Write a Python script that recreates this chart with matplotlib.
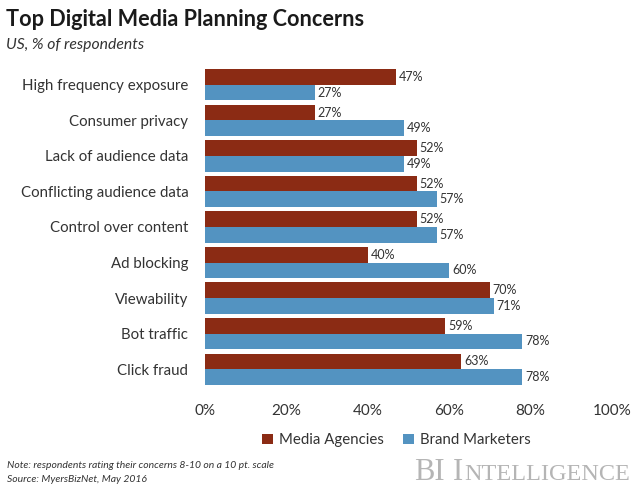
import numpy as np
import matplotlib
matplotlib.use('Agg')
import matplotlib.pyplot as plt

plt.rcParams['font.family'] = ['Lato', 'DejaVu Sans']

categories = ['High frequency exposure', 'Consumer privacy', 'Lack of audience data',
              'Conflicting audience data', 'Control over content', 'Ad blocking',
              'Viewability', 'Bot traffic', 'Click fraud']
media_agencies = [47, 27, 52, 52, 52, 40, 70, 59, 63]
brand_marketers = [27, 49, 49, 57, 57, 60, 71, 78, 78]
x_ticks = [0, 20, 40, 60, 80, 100]

red = '#8b2b14'
blue = '#5393c1'
text_col = '#333333'

W, H = 640, 488
fig = plt.figure(figsize=(W / 100, H / 100), dpi=100)
ax = fig.add_axes([205 / W, 1 - 387 / H, 407 / W, 320 / H])

y = np.arange(len(categories))
h = 0.44
ax.barh(y - h / 2, media_agencies, h, color=red, label='Media Agencies')
ax.barh(y + h / 2, brand_marketers, h, color=blue, label='Brand Marketers')

for i in y:
    ax.text(media_agencies[i] + 0.7, i - h / 2, f'{media_agencies[i]}%', va='center',
            fontsize=9, color=text_col)
    ax.text(brand_marketers[i] + 0.7, i + h / 2, f'{brand_marketers[i]}%', va='center',
            fontsize=9, color=text_col)

ax.set_xlim(0, 100)
ax.set_ylim(len(categories) - 0.5, -0.5)
ax.set_xticks(x_ticks)
ax.set_xticklabels([f'{t}%' for t in x_ticks], fontsize=11, color=text_col)
ax.set_yticks(y)
ax.set_yticklabels(categories, fontsize=10.8, color=text_col)
ax.tick_params(length=0)
ax.tick_params(axis='x', pad=12)
ax.tick_params(axis='y', pad=12)
for s in ax.spines.values():
    s.set_visible(False)

fig.legend(loc='center', bbox_to_anchor=(396.5 / W, 1 - 440 / H), ncol=2, frameon=False,
           fontsize=10.8, handlelength=0.7, handleheight=0.7, handletextpad=0.4,
           columnspacing=1.3, labelcolor=text_col)

fig.text(6 / W, 1 - 20 / H, 'Top Digital Media Planning Concerns', fontsize=15.6,
         fontweight='bold', va='center', color='#1a1a1a')
fig.text(6 / W, 1 - 45 / H, 'US, % of respondents', fontsize=11.3, style='italic',
         va='center', color=text_col)
fig.text(7 / W, 1 - 466 / H, 'Note: respondents rating their concerns 8-10 on a 10 pt. scale',
         fontsize=7.5, style='italic', va='center', color=text_col)
fig.text(7 / W, 1 - 479 / H, 'Source: MyersBizNet, May 2016', fontsize=7.5, style='italic',
         va='center', color=text_col)

# small caps logo, pieces laid out one after the other
renderer = fig.canvas.get_renderer()
px = 414
for piece, size in [('BI', 22), (' ', 15), ('I', 22), ('NTELLIGENCE', 17.5)]:
    t = fig.text(px / W, 1 - 480 / H, piece, fontsize=size, family='Liberation Serif',
                 ha='left', va='baseline', color='#b5b5b5')
    if piece == ' ':
        px += 7
    else:
        px += t.get_window_extent(renderer).width + 1

fig.savefig('out.png', dpi=100)
